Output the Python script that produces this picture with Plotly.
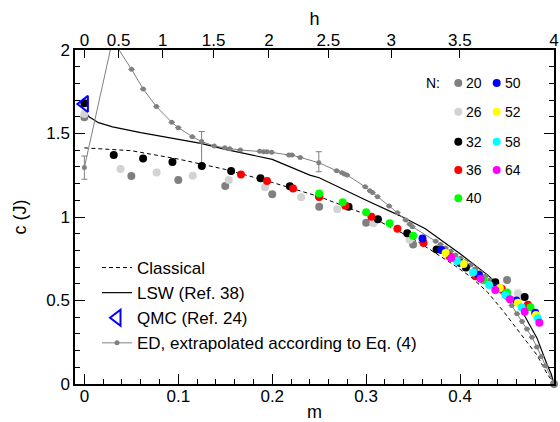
import plotly.graph_objects as go

# ---------------- data ----------------
m_classical = [0, 0.05, 0.1, 0.15, 0.2, 0.25, 0.3, 0.35, 0.3934, 0.411, 0.4288, 0.4465, 0.4641, 0.4818, 0.4924, 0.5]
c_classical = [1.414, 1.397, 1.347, 1.285, 1.207, 1.122, 1.015, 0.87, 0.713, 0.643, 0.553, 0.433, 0.303, 0.174, 0.064, 0.0]

m_lsw = [0, 0.005, 0.015, 0.03, 0.06, 0.1, 0.124, 0.15, 0.2, 0.24, 0.25, 0.3, 0.335, 0.363, 0.4, 0.4288, 0.4465, 0.4641, 0.4818, 0.4924, 0.497, 0.5]
c_lsw = [1.64, 1.60, 1.565, 1.54, 1.505, 1.465, 1.441, 1.405, 1.345, 1.251, 1.235, 1.10, 1.01, 0.93, 0.78, 0.655, 0.568, 0.455, 0.276, 0.12, 0.06, 0.0]

m_qmc = [0.0]
c_qmc = [1.677]

m_ed = [0, 0.030, 0.0502, 0.0626, 0.0767, 0.093, 0.100, 0.1149, 0.1248, 0.1382, 0.1495, 0.1548,
        0.166, 0.1866, 0.191, 0.1944, 0.1994, 0.2177, 0.221, 0.2298, 0.2496, 0.2686, 0.2742, 0.2768,
        0.2796, 0.299, 0.304, 0.3068, 0.3121, 0.3245, 0.3333, 0.3421, 0.3464, 0.3492, 0.374, 0.3792,
        0.3845, 0.39, 0.395, 0.4005, 0.4058, 0.4112, 0.4164, 0.4218, 0.427, 0.432, 0.4376, 0.445,
        0.450, 0.455, 0.4606, 0.466, 0.4712, 0.4765, 0.4818, 0.4865, 0.4907, 0.5]
c_ed = [1.297, 2.06, 1.884, 1.766, 1.661, 1.567, 1.535, 1.481, 1.452, 1.425, 1.415, 1.409,
        1.401, 1.393, 1.391, 1.391, 1.387, 1.371, 1.371, 1.357, 1.325, 1.277, 1.265, 1.257,
        1.251, 1.181, 1.157, 1.146, 1.122, 1.066, 1.026, 0.982, 0.958, 0.942, 0.855, 0.835,
        0.815, 0.795, 0.773, 0.753, 0.733, 0.712, 0.69, 0.668, 0.645, 0.622, 0.600, 0.550,
        0.515, 0.470, 0.420, 0.375, 0.330, 0.280, 0.222, 0.165, 0.11, 0.0]
ed_err_plus = {0: 0.068, 8: 0.06, 20: 0.066}
ed_err_minus = {0: 0.071, 8: 0.14, 20: 0.054}

N_labels = [20, 26, 32, 36, 40, 50, 52, 58, 64]
N_colors = ["#808080", "#d3d3d3", "#000000", "#ff0000", "#00ff00",
            "#0000ff", "#ffff00", "#00ffff", "#ff00ff"]
N_m = {
    20: [0, 0.05, 0.1, 0.15, 0.2, 0.25, 0.3, 0.35, 0.45, 0.5],
    26: [0, 0.0385, 0.0769, 0.1154, 0.1538, 0.1923, 0.2308, 0.2692, 0.3077, 0.3462, 0.4615],
    32: [0, 0.03125, 0.0625, 0.09375, 0.125, 0.15625, 0.1875, 0.21875, 0.25, 0.28125,
         0.3125, 0.34375, 0.375, 0.40625, 0.4375, 0.46875],
    36: [0.1667, 0.1944, 0.2222, 0.25, 0.2778, 0.3056, 0.3333, 0.3611, 0.3889, 0.4167, 0.4444, 0.4722],
    40: [0.25, 0.275, 0.3, 0.325, 0.35, 0.425, 0.45, 0.475],
    50: [0.36, 0.38, 0.40, 0.42, 0.44, 0.46, 0.48],
    52: [0.3846, 0.4038, 0.4423, 0.4615, 0.4808],
    58: [0.3966, 0.4138, 0.431, 0.4483, 0.4655, 0.4828],
    64: [0.3906, 0.4219, 0.4375, 0.4531, 0.4688, 0.4844],
}
N_c = {
    20: [1.597, 1.246, 1.221, 1.186, 1.136, 1.061, 0.966, 0.836, 0.623, 0.0],
    26: [1.617, 1.287, 1.267, 1.247, 1.222, 1.178, 1.118, 1.046, 0.962, 0.864, 0.543],
    32: [1.681, 1.371, 1.351, 1.329, 1.306, 1.276, 1.232, 1.184, 1.124, 1.061,
         0.987, 0.902, 0.806, 0.698, 0.609, 0.521],
    36: [1.255, 1.216, 1.170, 1.120, 1.068, 1.002, 0.929, 0.844, 0.764, 0.645, 0.570, 0.475],
    40: [1.140, 1.089, 1.029, 0.962, 0.888, 0.621, 0.548, 0.459],
    50: [0.872, 0.802, 0.725, 0.653, 0.578, 0.500, 0.427],
    52: [0.784, 0.718, 0.575, 0.487, 0.413],
    58: [0.737, 0.667, 0.593, 0.533, 0.459, 0.393],
    64: [0.754, 0.630, 0.563, 0.507, 0.433, 0.367],
}

h_tick_labels = ["0", "0.5", "1", "1.5", "2", "2.5", "3", "3.5", "4"]
h_tick_m = [0, 0.0364, 0.0835, 0.1376, 0.1965, 0.2598, 0.3266, 0.3998, 0.5]

# ---------------- layout constants ----------------
W, H = 560, 422
ML, MR, MT, MB = 75, 6, 50, 38
PW, PH = W - ML - MR, H - MT - MB
FONT = "Liberation Sans, Arial, Helvetica, sans-serif"


def px2paper(px, py):
    return (px - ML) / PW, (H - MB - py) / PH


fig = go.Figure()

fig.add_trace(go.Scatter(x=m_classical, y=c_classical, mode="lines", name="Classical",
                         line=dict(color="black", width=1, dash="4px,3px")))
fig.add_trace(go.Scatter(x=m_lsw, y=c_lsw, mode="lines", name="LSW (Ref. 38)",
                         line=dict(color="black", width=1.2)))

ep = [ed_err_plus.get(i) for i in range(len(m_ed))]
em = [ed_err_minus.get(i) for i in range(len(m_ed))]
fig.add_trace(go.Scatter(x=m_ed, y=c_ed, mode="lines+markers",
                         name="ED, extrapolated according to Eq. (4)",
                         line=dict(color="#808080", width=1),
                         marker=dict(color="#808080", size=5),
                         error_y=dict(type="data", array=ep, arrayminus=em, symmetric=False,
                                      color="#808080", thickness=1, width=3)))

for n, col in zip(N_labels, N_colors):
    fig.add_trace(go.Scatter(x=N_m[n], y=N_c[n], mode="markers", showlegend=False,
                             name=f"N={n}", cliponaxis=False,
                             marker=dict(color=col, size=8, line=dict(width=0))))

fig.add_trace(go.Scatter(x=m_qmc, y=c_qmc, mode="markers", name="QMC (Ref. 24)",
                         cliponaxis=False,
                         marker=dict(symbol="triangle-left-open", color="#0000ff", size=14,
                                     line=dict(width=2, color="#0000ff"))))

# dummy trace on top axis so it is drawn
fig.add_trace(go.Scatter(x=m_classical, y=c_classical, xaxis="x2", mode="lines",
                         showlegend=False, hoverinfo="skip", opacity=0,
                         line=dict(width=0)))

# legend order
fig.data[0].legendrank = 1
fig.data[1].legendrank = 2
fig.data[-2].legendrank = 3
fig.data[2].legendrank = 4

# inset N legend (two columns)
col_x = [458.3, 496.7]
row_y = [83, 111.7, 141.7, 170, 198.3]
shapes = []
annotations = []
for i, (n, col) in enumerate(zip(N_labels, N_colors)):
    c_i = 0 if i < 5 else 1
    r_i = i if i < 5 else i - 5
    xp, yp = px2paper(col_x[c_i], row_y[r_i])
    shapes.append(dict(type="circle", xref="paper", yref="paper", xsizemode="pixel",
                       ysizemode="pixel", xanchor=xp, yanchor=yp, x0=-4, x1=4, y0=-4, y1=4,
                       fillcolor=col, line=dict(width=0)))
    tx, _ = px2paper(col_x[c_i] + 6, row_y[r_i])
    annotations.append(dict(text=str(n), xref="paper", yref="paper", x=tx, y=yp,
                            xanchor="left", yanchor="middle", showarrow=False,
                            font=dict(size=14, color="black", family=FONT)))
nx, ny = px2paper(424, 83)
annotations.append(dict(text="N:", xref="paper", yref="paper", x=nx, y=ny,
                        xanchor="left", yanchor="middle", showarrow=False,
                        font=dict(size=14, color="black", family=FONT)))

lx, ly = px2paper(97, 250)

fig.update_layout(
    width=W, height=H,
    margin=dict(l=ML, r=MR, t=MT, b=MB, autoexpand=False),
    paper_bgcolor="white", plot_bgcolor="white",
    font=dict(family=FONT, size=17, color="black"),
    showlegend=True,
    legend=dict(x=lx, y=ly, xanchor="left", yanchor="top", bgcolor="rgba(0,0,0,0)",
                borderwidth=0, font=dict(size=17), traceorder="normal"),
    shapes=shapes,
    annotations=annotations,
    xaxis=dict(range=[-0.01, 0.5], showgrid=False, zeroline=False, automargin=False,
               showline=True, linecolor="black", linewidth=1.5, mirror=False,
               tickvals=[0, 0.1, 0.2, 0.3, 0.4], ticktext=["0", "0.1", "0.2", "0.3", "0.4"],
               ticks="inside", ticklen=10, tickwidth=1, tickcolor="black",
               ticklabelstandoff=-4,
               minor=dict(dtick=0.02, tick0=0, ticks="inside", ticklen=5, tickwidth=1,
                          tickcolor="black", showgrid=False),
               tickfont=dict(size=17),
               title=dict(text="m", font=dict(size=18), standoff=6)),
    xaxis2=dict(range=[-0.01, 0.5], overlaying="x", side="top", anchor="y", automargin=False,
                showgrid=False, zeroline=False, showline=True, linecolor="black",
                linewidth=1.5, tickvals=h_tick_m, ticktext=h_tick_labels,
                ticks="inside", ticklen=8, tickwidth=1, tickcolor="black",
                ticklabelstandoff=-5,
                tickfont=dict(size=17),
                title=dict(text="h", font=dict(size=18), standoff=1)),
    yaxis=dict(range=[0, 2], showgrid=False, zeroline=False, showline=True, automargin=False,
               linecolor="black", linewidth=1.5, mirror="ticks",
               tickvals=[0, 0.5, 1, 1.5, 2], ticktext=["0", "0.5", "1", "1.5", "2"],
               ticks="inside", ticklen=10, tickwidth=1, tickcolor="black",
               minor=dict(dtick=0.1, tick0=0, ticks="inside", ticklen=5, tickwidth=1,
                          tickcolor="black", showgrid=False),
               tickfont=dict(size=17),
               title=dict(text="c (J)", font=dict(size=18))),
)

fig.write_html("out.html", config={"displayModeBar": False},
               post_script="document.body.style.margin='0';")
